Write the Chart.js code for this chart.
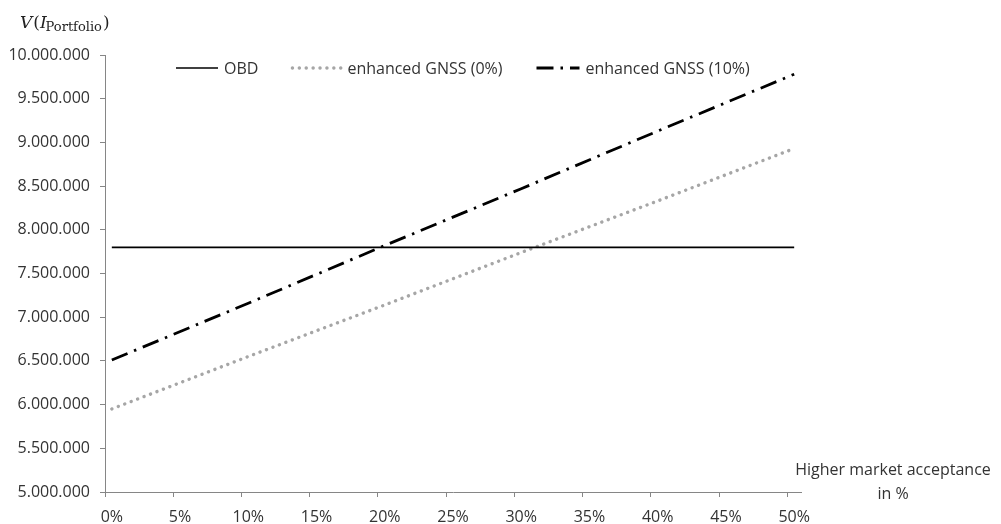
<head>
    <script src="https://cdn.jsdelivr.net/npm/chart.js"></script>
</head>
<body style="margin:0;background:#fff">
<canvas id="chart" width="1001" height="524"></canvas>
<script>
    // x axis is a category axis 0%..50% in 1% steps, labelled every 5%
    const categories = Array.from({length: 51}, (_, i) => i + '%');
    const samplePoints = ['0%', '10%', '20%', '30%', '40%', '50%'];
    const obd = [7800000, 7800000, 7800000, 7800000, 7800000, 7800000];
    const gnss0 = [5950000, 6550000, 7140000, 7740000, 8330000, 8930000];
    const gnss10 = [6510000, 7160000, 7820000, 8470000, 9130000, 9780000];
    const seriesNames = ['OBD', 'enhanced GNSS (0%)', 'enhanced GNSS (10%)'];

    const axisGrey = '#868686';
    const textColor = '#333333';
    const font = "'Open Sans', sans-serif";

    const toPoints = (vals) => vals.map((v, i) => ({x: samplePoints[i], y: v}));
    const fmt = (v) => String(Math.round(v)).replace(/\B(?=(\d{3})+(?!\d))/g, '.');

    const extras = {
        id: 'extras',
        afterDraw(chart) {
            const ctx = chart.ctx;
            ctx.save();
            // legend drawn inside the plot area
            ctx.font = '16px ' + font;
            ctx.textBaseline = 'middle';
            ctx.textAlign = 'left';
            let x = 176;
            const y = 68;
            chart.data.datasets.forEach((ds, i) => {
                const len = i === 0 ? 42 : (i === 1 ? 49 : 43);
                ctx.save();
                ctx.strokeStyle = ds.borderColor;
                ctx.lineWidth = i === 0 ? 1.3 : ds.borderWidth;
                ctx.setLineDash(ds.borderDash || []);
                ctx.lineCap = ds.borderCapStyle || 'butt';
                ctx.beginPath();
                ctx.moveTo(x, y);
                ctx.lineTo(x + len, y);
                ctx.stroke();
                ctx.restore();
                x += len + 6;
                ctx.fillStyle = textColor;
                ctx.fillText(ds.label, x, y + 1);
                x += ctx.measureText(ds.label).width + 34;
            });

            // y axis title V(I_Portfolio)
            ctx.fillStyle = '#222';
            ctx.textBaseline = 'alphabetic';
            let tx = 20;
            const base = 28;
            ctx.font = "italic 17px 'DejaVu Serif'";
            ctx.fillText('V', tx, base); tx += ctx.measureText('V').width + 1;
            ctx.font = "17px 'DejaVu Serif'";
            ctx.fillText('(', tx, base); tx += ctx.measureText('(').width;
            ctx.font = "italic 17px 'DejaVu Serif'";
            ctx.fillText('I', tx, base); tx += ctx.measureText('I').width - 1;
            ctx.font = "13px 'DejaVu Serif'";
            ctx.fillText('Portfolio', tx, base + 3); tx += ctx.measureText('Portfolio').width + 1;
            ctx.font = "17px 'DejaVu Serif'";
            ctx.fillText(')', tx, base);

            // x axis title to the right of the axis
            ctx.font = '16px ' + font;
            ctx.fillStyle = textColor;
            ctx.textAlign = 'center';
            ctx.textBaseline = 'middle';
            ctx.fillText('Higher market acceptance', 893, 470);
            ctx.fillText('in %', 893, 494);
            ctx.restore();
        }
    };

    new Chart(document.getElementById('chart'), {
        type: 'line',
        data: {
            labels: categories,
            datasets: [{
                label: seriesNames[0],
                data: toPoints(obd),
                borderColor: '#000000',
                borderWidth: 1.8,
                pointRadius: 0
            }, {
                label: seriesNames[1],
                data: toPoints(gnss0),
                borderColor: '#a6a6a6',
                borderWidth: 3.4,
                borderDash: [0.1, 6.8],
                borderCapStyle: 'round',
                pointRadius: 0
            }, {
                label: seriesNames[2],
                data: toPoints(gnss10),
                borderColor: '#000000',
                borderWidth: 2.8,
                borderDash: [17, 7, 2.5, 7],
                pointRadius: 0
            }]
        },
        options: {
            responsive: false,
            animation: false,
            layout: {padding: {left: 0, right: 200, top: 55, bottom: 0}},
            plugins: {
                legend: {display: false},
                tooltip: {enabled: false}
            },
            scales: {
                x: {
                    type: 'category',
                    offset: true,
                    afterFit: (scale) => { scale.height = 32; },
                    border: {display: true, color: axisGrey, width: 1},
                    grid: {
                        offset: true,
                        drawOnChartArea: false,
                        tickLength: 5,
                        tickColor: (c) => c.index % 5 === 0 ? axisGrey : 'rgba(0,0,0,0)'
                    },
                    ticks: {
                        autoSkip: false,
                        maxRotation: 0,
                        padding: 11,
                        color: textColor,
                        font: {family: font, size: 16},
                        callback: (val, idx) => idx % 5 === 0 ? categories[idx] : ''
                    }
                },
                y: {
                    min: 5000000,
                    max: 10000000,
                    afterFit: (scale) => { scale.width = 105; },
                    border: {display: true, color: axisGrey, width: 1},
                    grid: {drawOnChartArea: false, tickLength: 5, tickColor: axisGrey},
                    ticks: {
                        stepSize: 500000,
                        padding: 10,
                        color: textColor,
                        font: {family: font, size: 16},
                        callback: (v) => fmt(v)
                    }
                }
            }
        },
        plugins: [extras]
    });
</script>
</body>
